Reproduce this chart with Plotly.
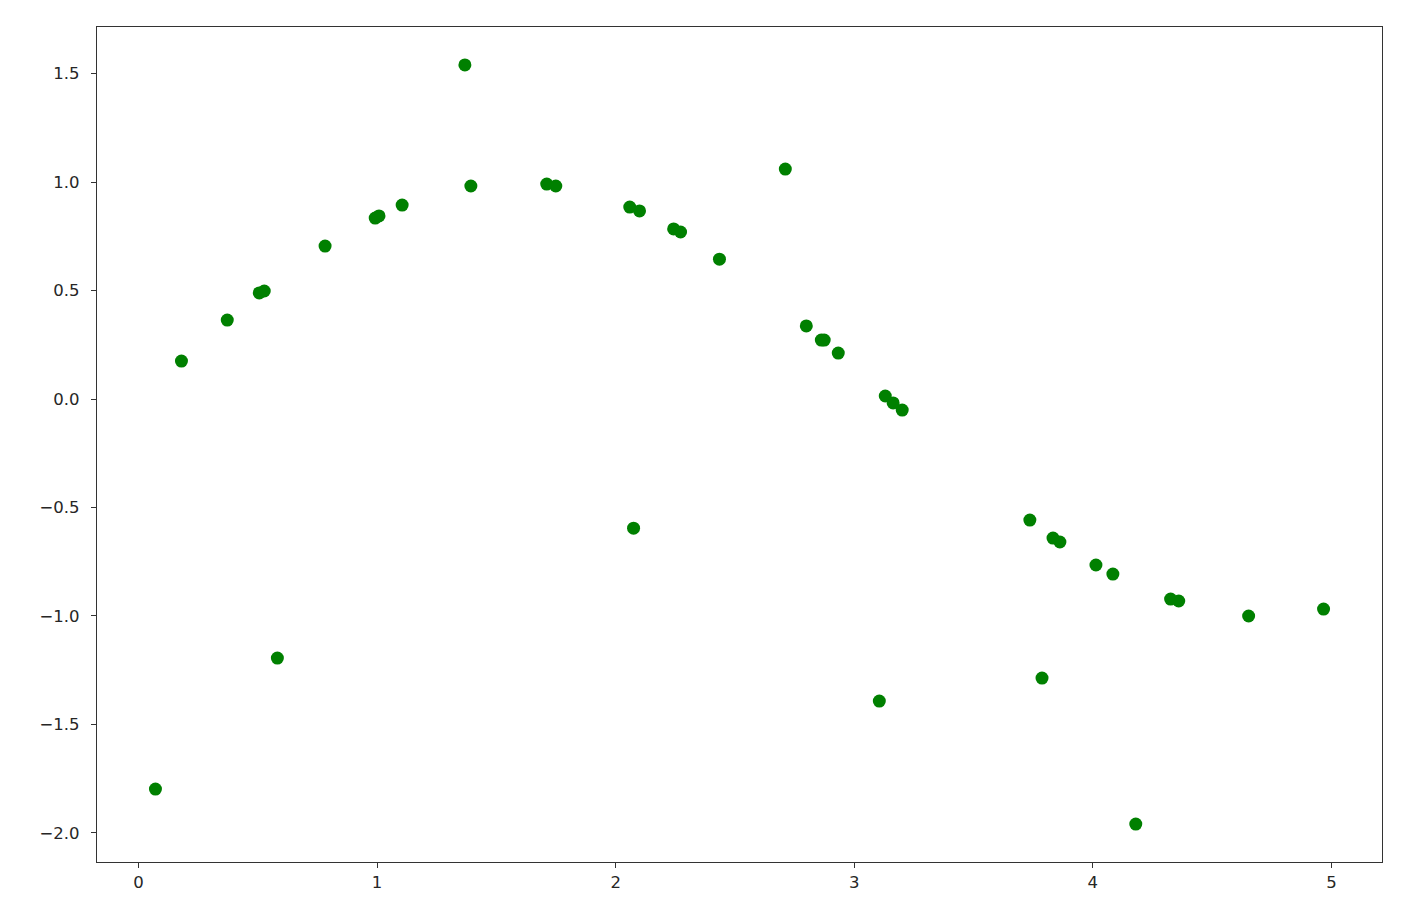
import plotly.graph_objects as go

x_vals = [0.071, 0.180, 0.372, 0.506, 0.527, 0.582, 0.782, 0.992, 1.008, 1.105,
          1.368, 1.393, 1.711, 1.749, 2.059, 2.100, 2.075, 2.243, 2.272, 2.435,
          2.711, 2.799, 2.862, 2.874, 2.933, 3.105, 3.130, 3.163, 3.201, 3.736,
          3.787, 3.833, 3.862, 4.013, 4.084, 4.180, 4.326, 4.360, 4.653, 4.967]
y_vals = [-1.798, 0.175, 0.364, 0.489, 0.498, -1.194, 0.705, 0.834, 0.844, 0.894,
          1.540, 0.982, 0.991, 0.982, 0.885, 0.867, -0.595, 0.784, 0.770, 0.645,
          1.060, 0.337, 0.272, 0.272, 0.212, -1.392, 0.014, -0.018, -0.051, -0.558,
          -1.286, -0.641, -0.659, -0.765, -0.807, -1.959, -0.922, -0.931, -1.000, -0.968]

x_ticks = [0, 1, 2, 3, 4, 5]
y_ticks = [-2.0, -1.5, -1.0, -0.5, 0.0, 0.5, 1.0, 1.5]

fig = go.Figure()
fig.add_trace(go.Scatter(
    x=x_vals, y=y_vals, mode="markers",
    marker=dict(color="#008000", size=13, line=dict(width=0)),
    showlegend=False,
))

axis_common = dict(
    showgrid=False, zeroline=False, showline=True, mirror=True,
    linecolor="#333333", linewidth=1.3,
    ticks="outside", ticklen=5, tickwidth=1.2, tickcolor="#333333",
    tickfont=dict(family="DejaVu Sans", size=16.5, color="#262626"),
)

fig.update_layout(
    width=1428, height=923,
    margin=dict(l=89, r=54, t=19, b=69),
    paper_bgcolor="white", plot_bgcolor="white",
    xaxis=dict(range=[-0.174, 5.212], tickvals=x_ticks,
               ticktext=[str(v) for v in x_ticks], **axis_common),
    yaxis=dict(range=[-2.134, 1.715], tickvals=y_ticks,
               ticktext=[("\u2212" if v < 0 else "") + f"{abs(v):.1f}" for v in y_ticks],
               ticklabelstandoff=8,
               **axis_common),
)

fig.write_html("out.html")
